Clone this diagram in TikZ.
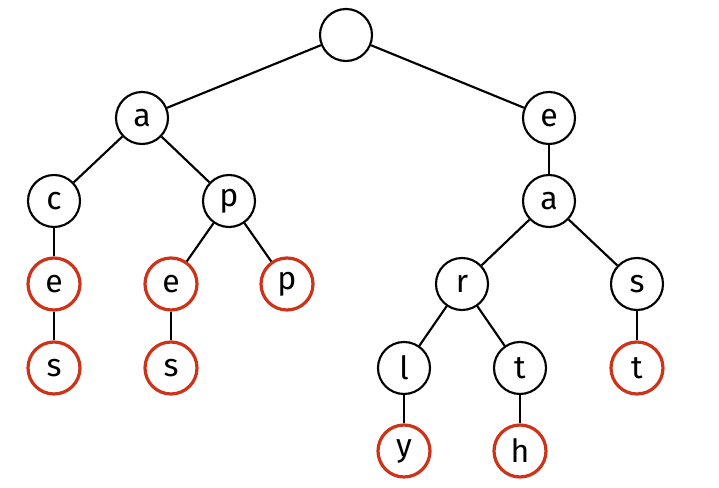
\documentclass[tikz,border=0pt]{standalone}
\usepackage{fontspec}
\setmainfont{Fira Sans}
\begin{document}
\begin{tikzpicture}[x=0.75pt,y=-0.75pt,
  tn/.style={circle,draw=black,line width=1.6pt,minimum size=39pt,inner sep=0pt,font=\fontsize{24}{26}\selectfont},
  leaf/.style={tn,draw={rgb,255:red,204;green,51;blue,24},line width=2.4pt},
  edge/.style={line width=1.6pt}]
\useasboundingbox (0,0) rectangle (719,488);
\node[tn] (root) at (346,35) {};
\node[tn] (a) at (142,118) {a};
\node[tn] (e) at (549,118) {e};
\node[tn] (c) at (54,201) {c};
\node[tn] (p) at (229,201) {p};
\node[tn] (a2) at (549,201) {a};
\node[leaf] (e1) at (54,284) {e};
\node[leaf] (e2) at (171,284) {e};
\node[leaf] (p2) at (287,284) {p};
\node[tn] (r) at (462,284) {r};
\node[tn] (s) at (637,284) {s};
\node[leaf] (s1) at (54,368) {s};
\node[leaf] (s2) at (171,368) {s};
\node[tn] (l) at (404,368) {l};
\node[tn] (t) at (520,368) {t};
\node[leaf] (t2) at (637,368) {t};
\node[leaf] (y) at (404,451) {y};
\node[leaf] (h) at (520,451) {h};
\foreach \u/\v in {root/a,root/e,a/c,a/p,c/e1,e1/s1,p/e2,p/p2,e2/s2,e/a2,a2/r,a2/s,r/l,r/t,s/t2,l/y,t/h}
  \draw[edge] (\u) -- (\v);
\end{tikzpicture}
\end{document}
